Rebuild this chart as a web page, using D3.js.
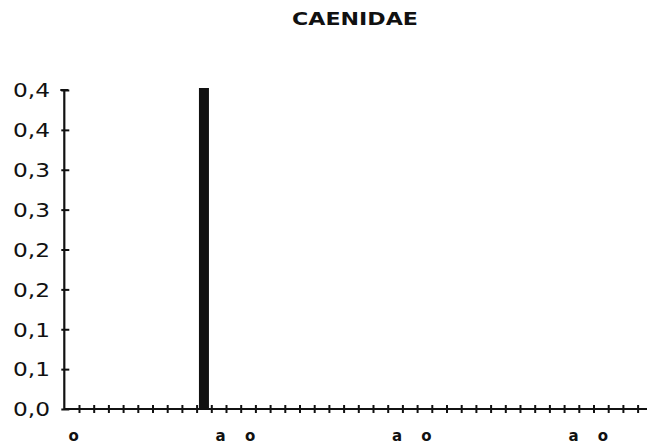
<!DOCTYPE html>
<html><head><meta charset="utf-8">
<script src="https://cdn.jsdelivr.net/npm/d3@7/dist/d3.min.js"></script>
<style>
html,body{margin:0;padding:0;background:#fff;}
svg{display:block;}
</style></head>
<body>
<svg id="chart" width="647" height="448"></svg>
<script>
// ---- data ----
const title = "CAENIDAE";
const categories = d3.range(40).map(i => "c" + i);
const xLabels = ["o","","","","","","","","","","a","","o","","","","","","","","","","a","","o","","","","","","","","","","a","","o","","",""];
const values = [0,0,0,0,0,0,0,0,0,0.4,0,0,0,0,0,0,0,0,0,0,0,0,0,0,0,0,0,0,0,0,0,0,0,0,0,0,0,0,0,0];
const yTickValues = [0,0.05,0.10,0.15,0.20,0.25,0.30,0.35,0.40];
const yTickLabels = ["0,0","0,1","0,1","0,2","0,2","0,3","0,3","0,4","0,4"];

// ---- layout ----
const svg = d3.select("#chart");
const x0 = 64.3, step = 14.7;
const yTop = 90, yBot = 409;
const ink = "#111";

const x = d3.scaleBand().domain(categories).range([x0, x0 + step * categories.length]).paddingInner(0.32).paddingOuter(0.16);
const xLin = d3.scaleLinear().domain([0, categories.length]).range([x0, x0 + step * categories.length]);
const y = d3.scaleLinear().domain([0, 0.4]).range([yBot, yTop]);

// title
svg.append("text").attr("x", 292).attr("y", 25)
  .attr("font-family", "DejaVu Sans").attr("font-weight", "bold")
  .attr("font-size", 18.5)
  .attr("textLength", 126).attr("lengthAdjust", "spacingAndGlyphs")
  .attr("fill", ink).text(title);

// bars
svg.append("g").selectAll("rect").data(values).join("rect")
  .attr("x", (d, i) => x(categories[i]))
  .attr("width", x.bandwidth())
  .attr("y", d => y(d) - (d > 0 ? 2 : 0))
  .attr("height", d => d > 0 ? yBot - y(d) + 2 : 0)
  .attr("fill", ink);

// x axis
const xAxis = svg.append("g").attr("transform", `translate(0,${yBot})`)
  .call(d3.axisBottom(xLin).tickValues(d3.range(1, categories.length)).tickSize(0).tickFormat(""));
xAxis.select(".domain").remove();
xAxis.selectAll(".tick line").attr("y1", -4).attr("y2", 4).attr("stroke", ink).attr("stroke-width", 2);
svg.append("line").attr("x1", x0).attr("x2", 647).attr("y1", yBot).attr("y2", yBot)
  .attr("stroke", ink).attr("stroke-width", 2.2);

// x labels
svg.append("g").selectAll("text").data(xLabels).join("text")
  .attr("x", (d, i) => x(categories[i]) + x.bandwidth() / 2 + 2)
  .attr("y", 441)
  .attr("text-anchor", "middle")
  .attr("font-family", "DejaVu Sans").attr("font-weight", "bold")
  .attr("font-size", 15)
  .attr("fill", ink).text(d => d);

// y axis
const yAxis = svg.append("g").attr("transform", `translate(${x0},0)`)
  .call(d3.axisLeft(y).tickValues(yTickValues).tickSize(0).tickPadding(14)
    .tickFormat((d, i) => yTickLabels[i]));
yAxis.select(".domain").remove();
yAxis.selectAll(".tick line").attr("x1", -3).attr("x2", 5).attr("stroke", ink).attr("stroke-width", 2);
yAxis.selectAll(".tick text")
  .attr("text-anchor", "start").attr("x", 13 - x0)
  .attr("font-family", "DejaVu Sans").attr("font-size", 19)
  .attr("textLength", 37).attr("lengthAdjust", "spacingAndGlyphs")
  .attr("fill", ink).attr("dy", "0.36em");
svg.append("line").attr("x1", x0).attr("x2", x0).attr("y1", yTop).attr("y2", yBot)
  .attr("stroke", ink).attr("stroke-width", 2.2);
svg.append("line").attr("x1", x0 - 4).attr("x2", x0 + 4).attr("y1", yTop).attr("y2", yTop)
  .attr("stroke", ink).attr("stroke-width", 2);
</script>
</body></html>
